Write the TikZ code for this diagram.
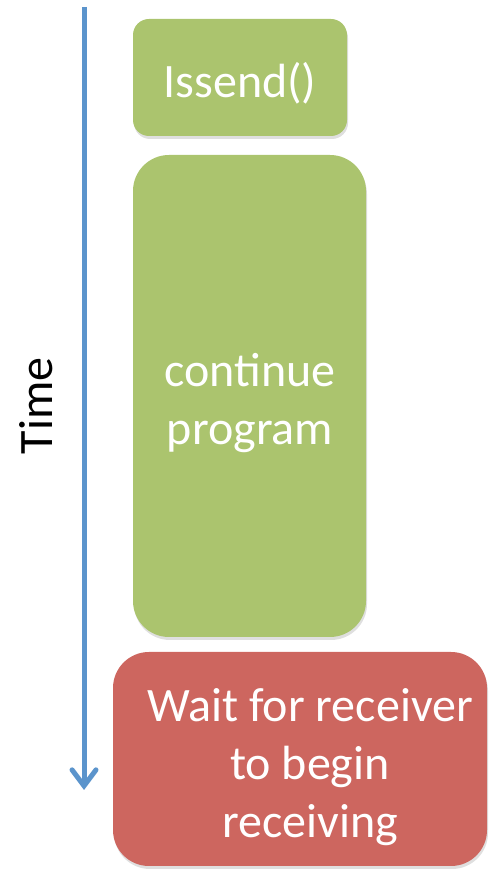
\documentclass[tikz,border=0pt]{standalone}
\usepackage{fontspec}
\setmainfont{Carlito}
\usetikzlibrary{arrows.meta,shadows}
\definecolor{boxgreen}{RGB}{171,196,110}
\definecolor{boxred}{RGB}{205,102,95}
\definecolor{timeblue}{RGB}{91,148,204}
\tikzset{
  card/.style={rounded corners=#1, draw=none, inner sep=0pt,
    drop shadow={shadow xshift=1pt, shadow yshift=-3pt, opacity=0.25}},
  cardtext/.style={text=white, font=\fontsize{48}{58}\selectfont, align=center},
}
\begin{document}
\begin{tikzpicture}[x=1pt,y=1pt]
  \useasboundingbox (0,0) rectangle (489,869);
  % time axis
  \coordinate (ttop) at (84,862);
  \coordinate (tbot) at (84,79);
  \draw[timeblue, line width=5pt, -{Straight Barb[length=16pt,width=24pt,line cap=round]}] (ttop) -- (tbot);
  \node[rotate=90, font=\fontsize{48}{58}\selectfont] (time) at (36,463) {Time};
  % blocks
  \node[card=16pt, fill=boxgreen, minimum width=214pt, minimum height=117pt] (issend) at (240,791.5) {};
  \node[cardtext] (issendtext) at (240,786) {Issend()};
  \node[card=36pt, fill=boxgreen, minimum width=233pt, minimum height=482pt] (cont) at (249.5,473) {};
  \node[cardtext] (conttext) at (250,466) {continue\\program};
  \node[card=36pt, fill=boxred, minimum width=374pt, minimum height=214pt] (wait) at (300,110) {};
  \node[cardtext] (waittext) at (310,102) {Wait for receiver\\to begin\\receiving};
\end{tikzpicture}
\end{document}
